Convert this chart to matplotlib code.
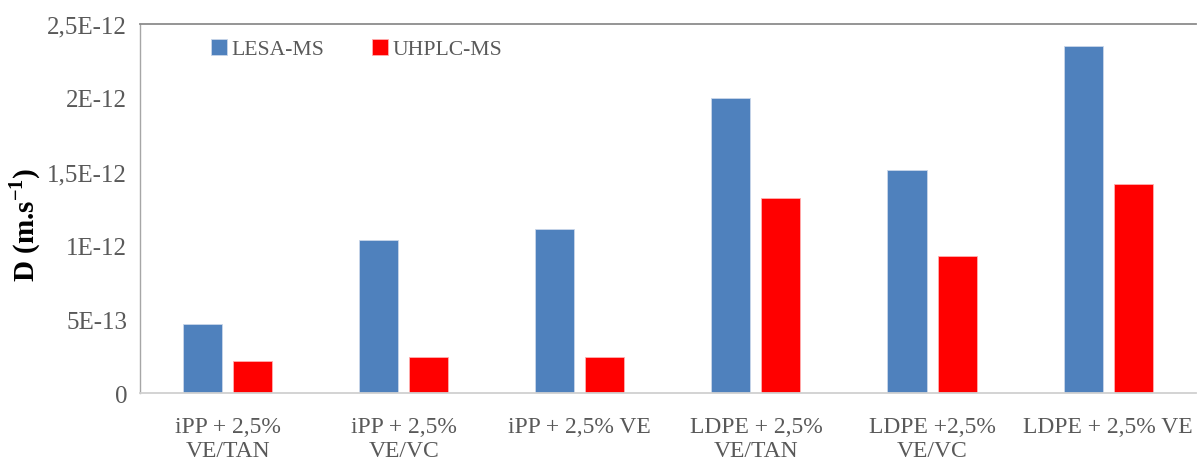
import numpy as np
import matplotlib.pyplot as plt

# Diffusion coefficients measured with the two techniques
categories = ['iPP + 2,5%\nVE/TAN', 'iPP + 2,5%\nVE/VC', 'iPP + 2,5% VE',
              'LDPE + 2,5%\nVE/TAN', 'LDPE +2,5%\nVE/VC', 'LDPE + 2,5% VE']
lesa_ms = [4.68e-13, 1.04e-12, 1.115e-12, 2.0e-12, 1.51e-12, 2.35e-12]
uhplc_ms = [2.22e-13, 2.44e-13, 2.44e-13, 1.32e-12, 0.93e-12, 1.415e-12]

yticks = [0, 5e-13, 1e-12, 1.5e-12, 2e-12, 2.5e-12]
ytick_labels = ['0', '5E-13', '1E-12', '1,5E-12', '2E-12', '2,5E-12']

plt.rcParams['font.family'] = ['Liberation Serif', 'DejaVu Serif']

fig = plt.figure(figsize=(11.98, 4.64), dpi=100)
ax = fig.add_axes([0.1165, 0.15, 0.882, 0.796])

x = np.arange(len(categories))
w = 0.222
ax.bar(x - 0.142, lesa_ms, w, color='#4F81BD', edgecolor='#c9d6ea', linewidth=0.6, label='LESA-MS')
ax.bar(x + 0.142, uhplc_ms, w, color='#FF0000', edgecolor='#ffb0b0', linewidth=0.6, label='UHPLC-MS')

ax.set_xlim(-0.5, len(categories) - 0.5)
ax.set_ylim(0, 2.5e-12)
ax.set_yticks(yticks)
ax.set_yticklabels(ytick_labels, fontsize=18)
ax.set_xticks(x)
ax.set_xticklabels(categories, linespacing=1.2, fontsize=17)
ax.tick_params(axis='both', length=0, colors='#595959')
ax.tick_params(axis='y', pad=9)
ax.tick_params(axis='x', pad=16)

ax.spines['right'].set_visible(False)
ax.spines['top'].set_color('#8c8c8c')
ax.spines['top'].set_linewidth(1.3)
ax.spines['left'].set_color('#a6a6a6')
ax.spines['left'].set_linewidth(1.0)
ax.spines['bottom'].set_color('#d0d0d0')
ax.spines['bottom'].set_linewidth(1.3)

# y axis title placed in figure coordinates so it sits near the left edge
fig.text(0.021, 0.515, 'D (m.s$^{\\mathregular{-1}}$)', rotation=90, ha='center', va='center',
         fontsize=21, fontweight='bold', color='black')

ax.legend(loc='upper left', bbox_to_anchor=(0.0677, 0.96), ncol=2, frameon=False,
          fontsize=15.6, labelcolor='#595959', handlelength=0.75, handleheight=0.75,
          handletextpad=0.2, columnspacing=2.2, borderpad=0, borderaxespad=0)

fig.savefig('out.png', dpi=100)
